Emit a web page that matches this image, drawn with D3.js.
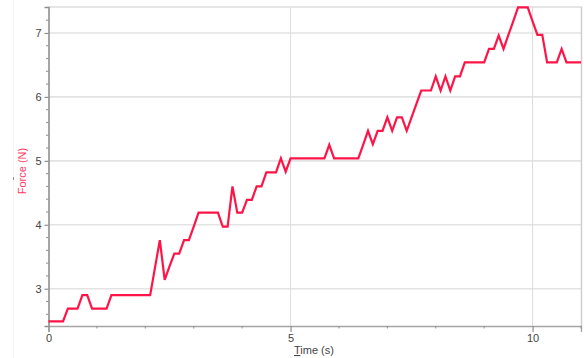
<!DOCTYPE html>
<html>
<head>
<meta charset="utf-8">
<script src="https://cdn.jsdelivr.net/npm/d3@7"></script>
<style>
  html, body { margin: 0; padding: 0; background: #fff; }
  svg { display: block; font-family: "Liberation Sans", Arial, sans-serif; }
</style>
</head>
<body>
<svg id="chart" width="584" height="358"></svg>
<script>
// Force sensor run, sampled every 0.1 s
const time = [
  0.0, 0.1, 0.2, 0.3, 0.4, 0.5, 0.6, 0.7, 0.8, 0.9,
  1.0, 1.1, 1.2, 1.3, 1.4, 1.5, 1.6, 1.7, 1.8, 1.9,
  2.0, 2.1, 2.2, 2.3, 2.4, 2.5, 2.6, 2.7, 2.8, 2.9,
  3.0, 3.1, 3.2, 3.3, 3.4, 3.5, 3.6, 3.7, 3.8, 3.9,
  4.0, 4.1, 4.2, 4.3, 4.4, 4.5, 4.6, 4.7, 4.8, 4.9,
  5.0, 5.1, 5.2, 5.3, 5.4, 5.5, 5.6, 5.7, 5.8, 5.9,
  6.0, 6.1, 6.2, 6.3, 6.4, 6.5, 6.6, 6.7, 6.8, 6.9,
  7.0, 7.1, 7.2, 7.3, 7.4, 7.5, 7.6, 7.7, 7.8, 7.9,
  8.0, 8.1, 8.2, 8.3, 8.4, 8.5, 8.6, 8.7, 8.8, 8.9,
  9.0, 9.1, 9.2, 9.3, 9.4, 9.5, 9.6, 9.7, 9.8, 9.9,
  10.0, 10.1, 10.2, 10.3, 10.4, 10.5, 10.6, 10.7, 10.8, 10.9,
  11.0
];
const force = [
  2.49, 2.49, 2.49, 2.49, 2.69, 2.69, 2.69, 2.90, 2.90, 2.69,
  2.69, 2.69, 2.69, 2.90, 2.90, 2.90, 2.90, 2.90, 2.90, 2.90,
  2.90, 2.90, 3.33, 3.76, 3.14, 3.35, 3.55, 3.55, 3.76, 3.76,
  3.97, 4.19, 4.19, 4.19, 4.19, 4.19, 3.97, 3.97, 4.60, 4.19,
  4.19, 4.39, 4.39, 4.60, 4.60, 4.82, 4.82, 4.82, 5.04, 4.83,
  5.04, 5.04, 5.04, 5.04, 5.04, 5.04, 5.04, 5.04, 5.25, 5.04,
  5.04, 5.04, 5.04, 5.04, 5.04, 5.25, 5.47, 5.26, 5.47, 5.47,
  5.68, 5.47, 5.68, 5.68, 5.47, 5.68, 5.89, 6.10, 6.10, 6.10,
  6.32, 6.10, 6.32, 6.10, 6.32, 6.32, 6.54, 6.54, 6.54, 6.54,
  6.54, 6.75, 6.75, 6.96, 6.75, 6.97, 7.18, 7.40, 7.40, 7.40,
  7.18, 6.97, 6.97, 6.54, 6.54, 6.54, 6.75, 6.54, 6.54, 6.54,
  6.54
];
const xTicks = [0, 5, 10];
const yTicks = [3, 4, 5, 6, 7];
const xTitle = "Time (s)";
const yTitle = "Force (N)";

const svg = d3.select("#chart");
const plotL = 48.5, plotR = 581, plotT = 7, plotB = 326;

const x = d3.scaleLinear().domain([0, 11]).range([plotL, plotR]);
const y = d3.scaleLinear().domain([2.417, 7.406]).range([plotB, plotT]);

// faint divider strip at far left
svg.append("line")
  .attr("x1", 13.5).attr("x2", 13.5).attr("y1", 0).attr("y2", 358)
  .attr("stroke", "#f3f3f3").attr("stroke-width", 1);

// horizontal grid
svg.append("g")
  .selectAll("line").data(yTicks).join("line")
  .attr("x1", plotL).attr("x2", plotR)
  .attr("y1", d => y(d)).attr("y2", d => y(d))
  .attr("stroke", "#e3e3e3").attr("stroke-width", 1.6);

// vertical grid
svg.append("g")
  .selectAll("line").data(xTicks.filter(d => d > 0)).join("line")
  .attr("x1", d => x(d)).attr("x2", d => x(d))
  .attr("y1", plotT).attr("y2", plotB)
  .attr("stroke", "#dddddd").attr("stroke-width", 1);

// frame: top and right borders
svg.append("line")
  .attr("x1", plotL).attr("x2", plotR + 1).attr("y1", plotT).attr("y2", plotT)
  .attr("stroke", "#dcdcdc").attr("stroke-width", 1.5);
svg.append("line")
  .attr("x1", plotR + 0.5).attr("x2", plotR + 0.5).attr("y1", plotT).attr("y2", plotB)
  .attr("stroke", "#cfcfcf").attr("stroke-width", 1.5);

// y axis with minor ticks every 0.2 N
const yMinor = d3.range(26, 74, 2).map(v => v / 10).filter(v => !yTicks.includes(v));
const gy = svg.append("g").attr("transform", `translate(${plotL},0)`);
gy.call(d3.axisLeft(y).tickValues(yTicks).tickSize(4).tickPadding(3).tickFormat(d3.format("d")));
gy.select(".domain").attr("stroke", "#8f8f8f").attr("stroke-width", 1.6);
gy.selectAll(".tick line").attr("stroke", "#8f8f8f").attr("stroke-width", 1.2);
gy.selectAll(".tick text").attr("fill", "#444").style("font-size", "11px")
  .style("font-family", "'Liberation Sans', Arial, sans-serif");
gy.append("g").selectAll("line").data(yMinor).join("line")
  .attr("x1", -2.5).attr("x2", 0)
  .attr("y1", d => y(d)).attr("y2", d => y(d))
  .attr("stroke", "#8f8f8f").attr("stroke-width", 1);

// x axis with minor ticks every 1 s
const xMinor = [1, 2, 3, 4, 6, 7, 8, 9, 11];
const gx = svg.append("g").attr("transform", `translate(0,${plotB})`);
gx.call(d3.axisBottom(x).tickValues(xTicks).tickSize(6).tickPadding(2).tickFormat(d3.format("d")));
gx.select(".domain").attr("stroke", "#a5a5a5").attr("stroke-width", 1.3);
gx.selectAll(".tick line").attr("stroke", "#8f8f8f").attr("stroke-width", 1.2);
gx.selectAll(".tick text").attr("fill", "#444").style("font-size", "11px")
  .style("font-family", "'Liberation Sans', Arial, sans-serif");
gx.append("g").selectAll("line").data(xMinor).join("line")
  .attr("x1", d => x(d)).attr("x2", d => x(d))
  .attr("y1", 0).attr("y2", 2.5)
  .attr("stroke", "#8f8f8f").attr("stroke-width", 1);

// force trace
const pts = time.map((t, i) => [t, force[i]]);
svg.append("path")
  .datum(pts)
  .attr("fill", "none")
  .attr("stroke", "#ff1447")
  .attr("stroke-width", 2.2)
  .attr("stroke-linejoin", "miter")
  .attr("d", d3.line().x(d => x(d[0])).y(d => y(d[1])));

// axis titles
const xt = svg.append("text")
  .attr("x", 314).attr("y", 354)
  .attr("text-anchor", "middle")
  .attr("fill", "#444").style("font-size", "11px");
xt.append("tspan").style("text-decoration", "underline").text(xTitle[0]);
xt.append("tspan").text(xTitle.slice(1));

svg.append("text")
  .attr("transform", "translate(26,171) rotate(-90)")
  .attr("text-anchor", "middle")
  .attr("fill", "#ff3a64").style("font-size", "11px")
  .text(yTitle);

// small marker beside the y title
svg.append("line")
  .attr("x1", 13.5).attr("x2", 13.5).attr("y1", 177).attr("y2", 180)
  .attr("stroke", "#999").attr("stroke-width", 1);
</script>
</body>
</html>
